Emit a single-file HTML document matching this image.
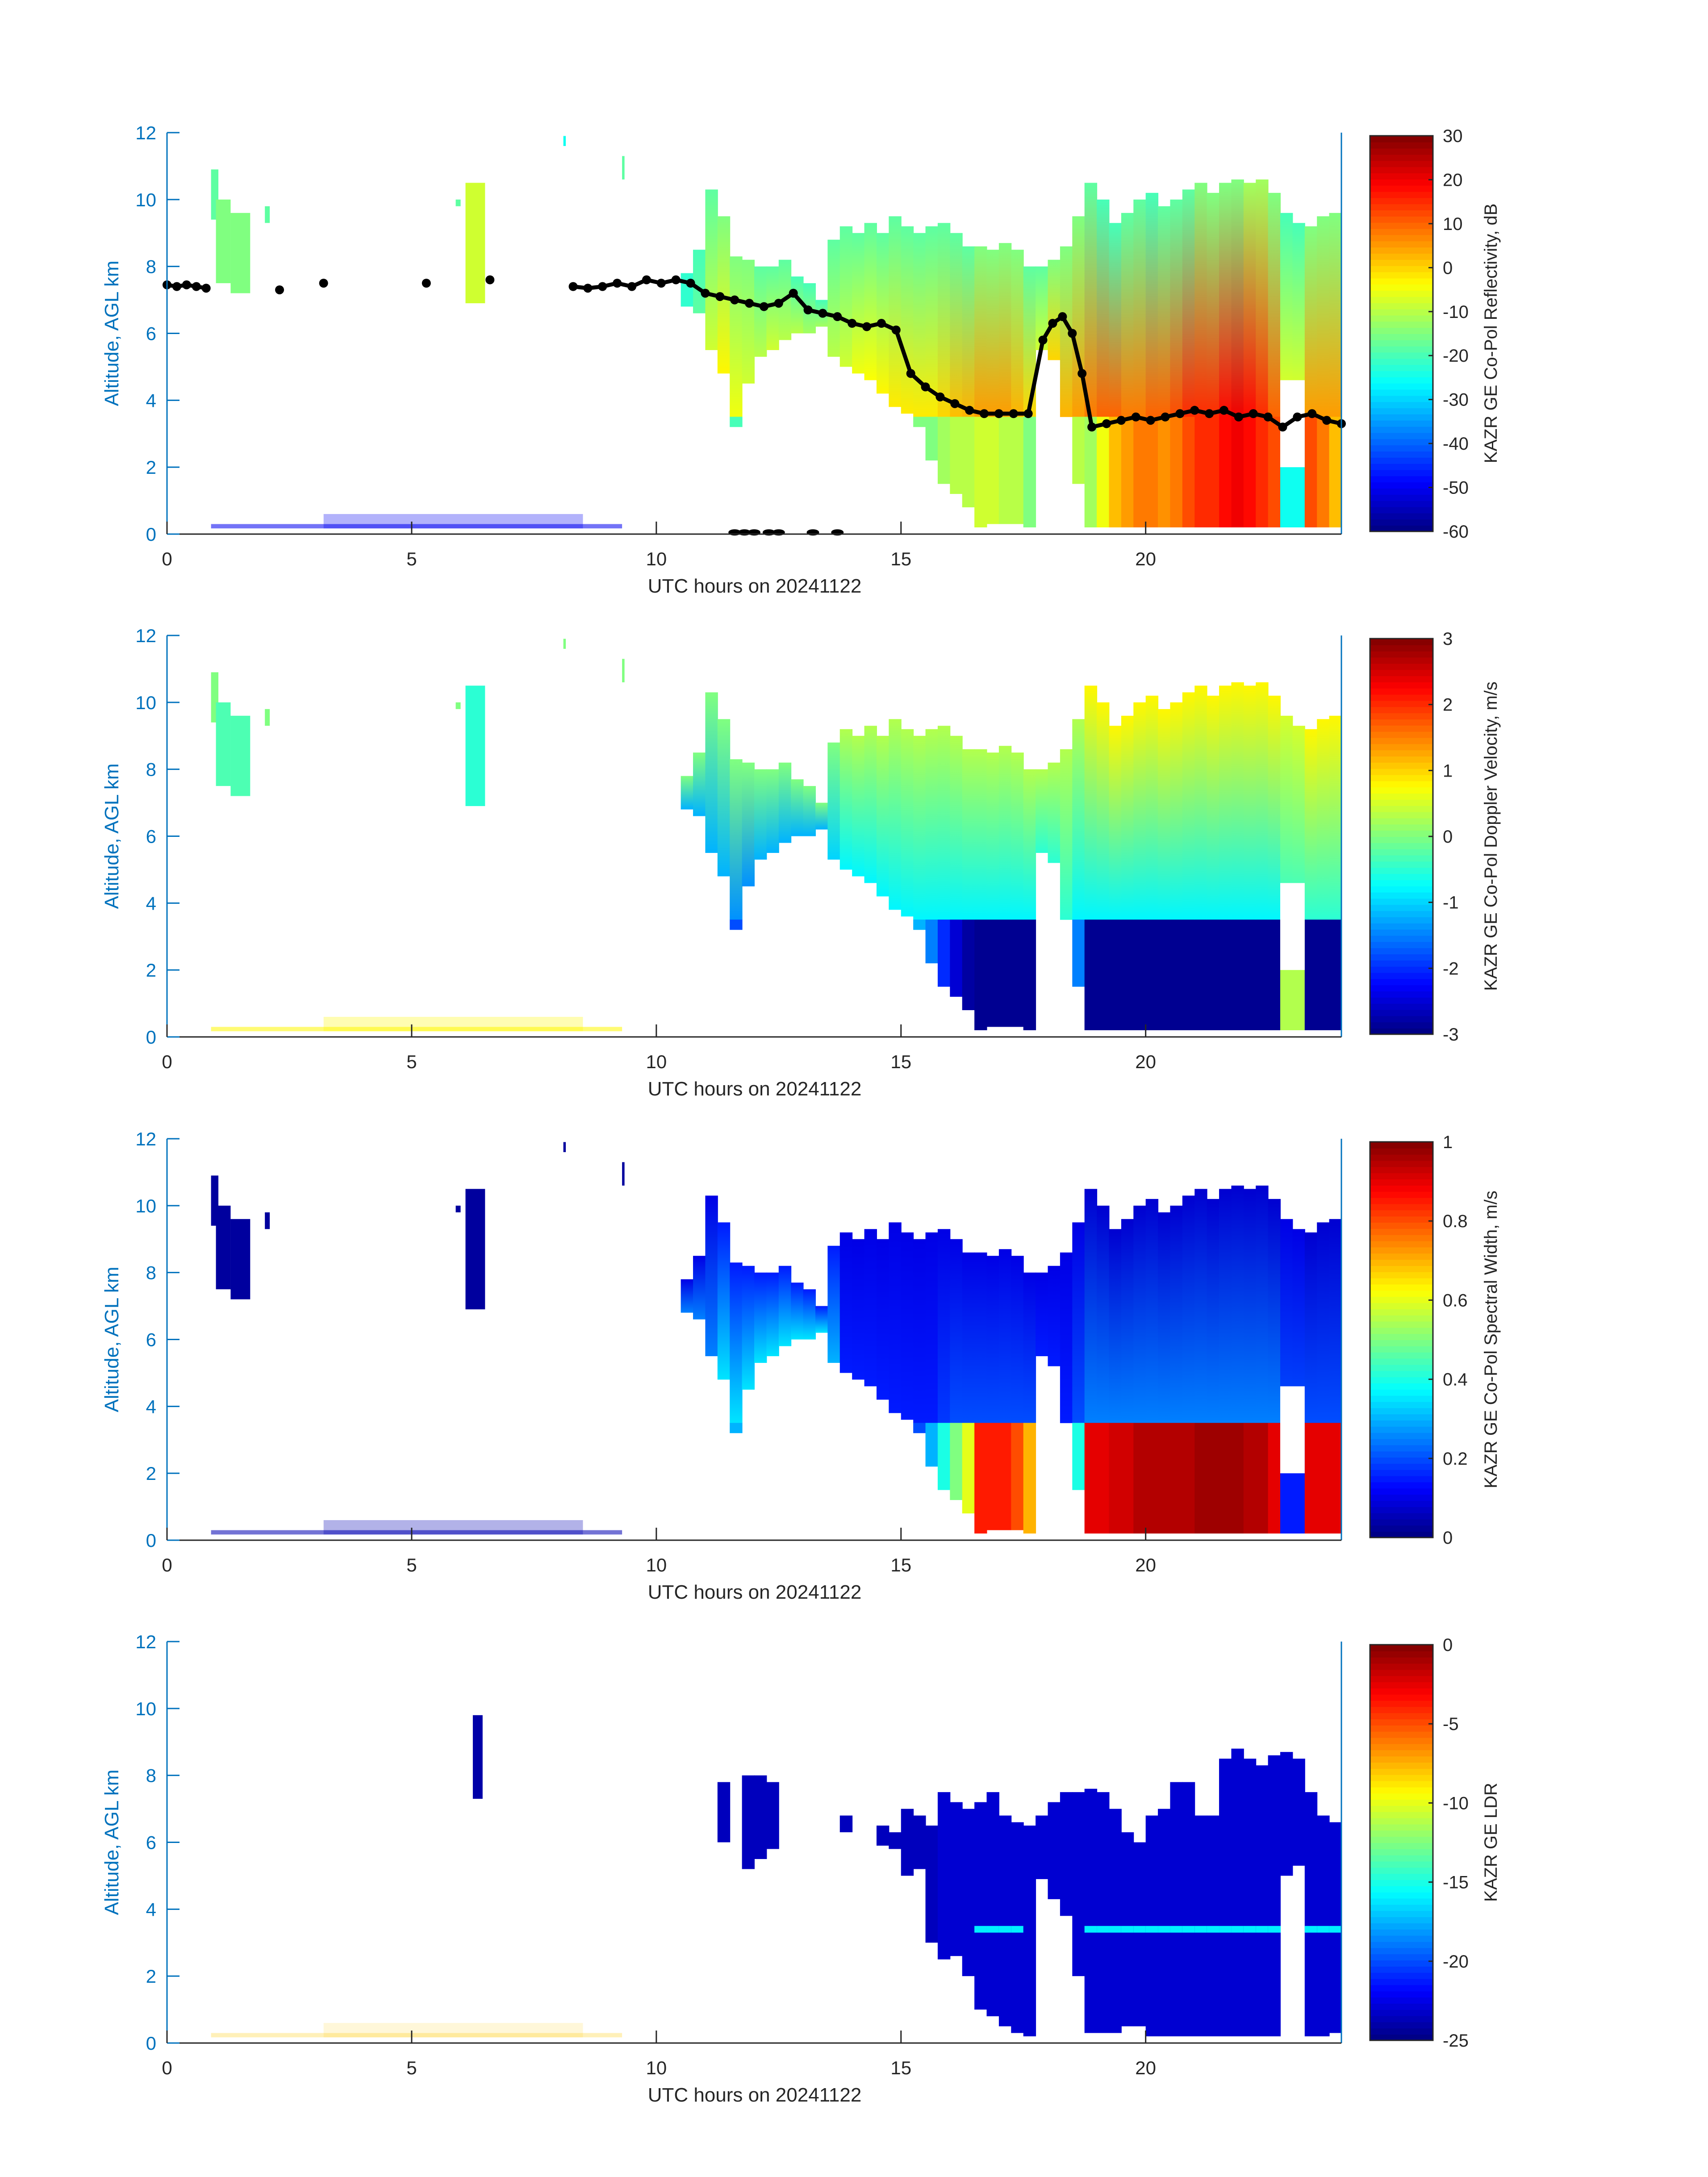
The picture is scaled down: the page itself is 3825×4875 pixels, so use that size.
<!DOCTYPE html>
<html><head><meta charset="utf-8">
<style>
html,body{margin:0;padding:0;background:#fff;}
svg{display:block;font-family:"Liberation Sans",sans-serif;}
</style></head>
<body>
<svg id="chart" xmlns="http://www.w3.org/2000/svg" width="3825" height="4875" viewBox="0 0 3825 4875">
<rect x="0" y="0" width="3825" height="4875" fill="#ffffff"/>
<defs id="defs"></defs>
<g id="root"></g>
</svg>
<script>
// ---- data ----
const hours = [10.5,10.75,11,11.25,11.5,11.75,12,12.25,12.5,12.75,13,13.25,13.5,13.75,14,14.25,14.5,14.75,15,15.25,15.5,15.75,16,16.25,16.5,16.75,17,17.25,17.5,17.75,18,18.25,18.5,18.75,19,19.25,19.5,19.75,20,20.25,20.5,20.75,21,21.25,21.5,21.75,22,22.25,22.5,22.75,23,23.25,23.5,23.75];
const cloudTopKm = [7.8,8.5,10.3,9.5,8.3,8.2,8.0,8.0,8.2,7.7,7.5,7.0,8.8,9.2,9.0,9.3,9.0,9.5,9.2,9.0,9.2,9.3,9.0,8.6,8.6,8.5,8.7,8.5,8.0,8.0,8.2,8.6,9.5,10.5,10.0,9.3,9.6,10.0,10.2,9.8,10.0,10.3,10.5,10.2,10.5,10.6,10.5,10.6,10.2,9.6,9.3,9.2,9.5,9.6];
const cloudBaseKm = [6.8,6.6,5.5,4.8,3.2,4.5,5.3,5.5,5.8,6.0,6.0,6.2,5.3,5.0,4.8,4.6,4.2,3.8,3.6,3.2,2.2,1.5,1.2,0.8,0.2,0.3,0.3,0.3,0.2,5.5,5.2,3.5,1.5,0.2,0.2,0.2,0.2,0.2,0.2,0.2,0.2,0.2,0.2,0.2,0.2,0.2,0.2,0.2,0.2,0.2,0.2,0.2,0.2,0.2];
const ldrTopKm = [0,0,0,7.8,0,8.0,8.0,7.8,0,0,0,0,0,6.8,0,0,6.5,6.3,7.0,6.8,6.5,7.5,7.2,7.0,7.2,7.5,6.8,6.6,6.5,6.8,7.2,7.5,7.5,7.6,7.5,7.0,6.3,6.0,6.8,7.0,7.8,7.8,6.8,6.8,8.5,8.8,8.5,8.3,8.6,8.7,8.5,7.5,6.8,6.6];
const ldrBaseKm = [0,0,0,6.0,0,5.2,5.5,5.8,0,0,0,0,0,6.3,0,0,5.9,5.8,5.0,5.2,3.0,2.5,2.6,2.0,1.0,0.8,0.5,0.3,0.2,4.9,4.3,3.8,2.0,0.3,0.3,0.3,0.5,0.5,0.2,0.2,0.2,0.2,0.2,0.2,0.2,0.2,0.2,0.2,0.2,5.0,5.3,0.2,0.2,0.3];
const ldrBand = [0,0,0,0,0,0,0,0,0,0,0,0,0,0,0,0,0,0,0,0,0,0,0,0,1,1,1,1,0,0,0,0,0,1,1,1,1,1,1,1,1,1,1,1,1,1,1,1,1,0,0,1,1,1];
const holeStart = [22.75];
const holeEnd = [23.25];
const holeTopKm = [4.6];
const holeBaseKm = [2.0];
// Reflectivity dB
const zTop = [-22,-20,-18,-15,-15,-15,-18,-18,-18,-20,-20,-20,-18,-18,-18,-18,-18,-18,-18,-18,-18,-18,-18,-18,-15,-15,-15,-15,-18,-18,-15,-15,-15,-18,-20,-20,-18,-18,-20,-18,-18,-18,-15,-15,-15,-15,-12,-12,-15,-20,-20,-15,-15,-15];
const zMid = [-22,-18,-8,-3,-5,-8,-10,-8,-10,-10,-12,-12,-10,-8,-5,-4,-3,-2,-2,-2,-2,0,2,3,5,5,5,3,0,-8,0,3,5,8,10,10,8,8,10,10,12,15,15,15,18,20,18,15,10,-5,-5,5,5,5];
const zLow = [-25,-22,-20,-15,-20,-18,-15,-15,-15,-15,-15,-12,-12,-10,-10,-10,-8,-10,-12,-15,-15,-12,-10,-10,-8,-8,-10,-10,-15,-18,-15,-15,-10,-12,-5,2,5,8,8,6,8,12,15,15,18,20,18,15,12,-25,-25,12,8,2];
// Doppler velocity m/s
const vTop = [0,0,0,0,0,0,0,0,0,0,0,0,0,0.3,0.3,0.3,0.3,0.3,0.3,0.3,0.3,0.3,0.3,0.3,0.3,0.3,0.3,0.3,0.3,0.3,0.3,0.3,0.3,0.8,0.8,0.8,0.8,0.8,0.8,0.8,0.8,0.8,0.8,0.8,0.8,0.8,0.8,0.8,0.8,0.5,0.5,0.8,0.8,0.8];
const vMid = [-1.2,-1.2,-1.2,-1.2,-1.4,-1.4,-1.2,-1.2,-1.2,-1.2,-1.2,-1.2,-1.0,-0.8,-0.8,-0.8,-0.8,-0.8,-0.8,-0.8,-0.8,-0.8,-0.8,-0.8,-0.8,-0.8,-0.8,-0.8,-0.8,-0.5,-0.5,-0.5,-0.8,-0.8,-0.8,-0.8,-0.8,-0.8,-0.8,-0.8,-0.8,-0.8,-0.8,-0.8,-0.8,-0.8,-0.8,-0.8,-0.8,-0.5,-0.5,-0.5,-0.5,-0.5];
const vLow = [-1.5,-1.5,-1.5,-1.5,-1.8,-1.5,-1.5,-1.5,-1.5,-1.5,-1.5,-1.5,-1.2,-1.2,-1.2,-1.2,-1.2,-1.2,-1.2,-1.2,-1.5,-2.0,-2.5,-2.8,-2.9,-2.9,-2.9,-2.9,-2.9,-1,-1,-1,-1.5,-2.9,-2.9,-2.9,-2.9,-2.9,-2.9,-2.9,-2.9,-2.9,-2.9,-2.9,-2.9,-2.9,-2.9,-2.9,-2.9,0.3,0.3,-2.9,-2.9,-2.9];
// Spectral width m/s
const wTop = [0.1,0.1,0.1,0.15,0.15,0.15,0.15,0.15,0.15,0.15,0.15,0.15,0.15,0.1,0.1,0.1,0.1,0.1,0.1,0.1,0.1,0.1,0.1,0.1,0.1,0.1,0.1,0.1,0.1,0.1,0.1,0.1,0.1,0.08,0.08,0.08,0.08,0.08,0.08,0.08,0.08,0.08,0.08,0.08,0.08,0.08,0.08,0.08,0.08,0.1,0.1,0.08,0.08,0.08];
const wMid = [0.25,0.25,0.25,0.35,0.35,0.35,0.35,0.35,0.35,0.35,0.35,0.35,0.3,0.15,0.15,0.15,0.15,0.15,0.15,0.15,0.15,0.18,0.2,0.2,0.2,0.2,0.2,0.2,0.2,0.15,0.15,0.15,0.2,0.25,0.25,0.25,0.25,0.25,0.25,0.25,0.25,0.25,0.25,0.25,0.25,0.25,0.25,0.25,0.25,0.2,0.2,0.2,0.2,0.2];
const wLow = [0.3,0.3,0.3,0.3,0.3,0.3,0.3,0.3,0.3,0.3,0.3,0.3,0.3,0.2,0.2,0.2,0.2,0.2,0.2,0.2,0.3,0.4,0.5,0.6,0.85,0.85,0.85,0.8,0.7,0.2,0.2,0.2,0.4,0.9,0.9,0.92,0.92,0.95,0.95,0.95,0.95,0.95,0.97,0.97,0.97,0.97,0.95,0.95,0.9,0.15,0.15,0.9,0.9,0.9];
// LDR dB
const ldrVal = [-24,-24,-24,-23.5,-24,-23.5,-23.5,-23.5,-24,-24,-24,-24,-24,-23.5,-24,-24,-23.5,-23.5,-23.5,-23.5,-23.5,-23,-23,-23,-23,-23,-23,-23,-23,-23,-23,-23,-23,-23,-23,-23,-23,-23,-23,-23,-23,-23,-23,-23,-23,-23,-23,-23,-23,-23,-23,-23,-23,-23];
const ldrBandVal = -16;
// early isolated clouds
const blobStart = [0.9,1.0,1.3,2.0,5.9,6.1,9.3,8.1];
const blobEnd = [1.05,1.3,1.7,2.1,6.0,6.5,9.35,8.15];
const blobTopKm = [10.9,10.0,9.6,9.8,10.0,10.5,11.3,11.9];
const blobBaseKm = [9.4,7.5,7.2,9.3,9.8,6.9,10.6,11.6];
const zBlob = [-18,-15,-15,-18,-18,-8,-18,-25];
const vBlob = [0,-0.3,-0.3,0,0,-0.5,0,0];
const wBlob = [0.03,0.03,0.03,0.03,0.03,0.03,0.03,0.03];
const ldrBlobStart = [6.25];
const ldrBlobEnd = [6.45];
const ldrBlobTopKm = [9.8];
const ldrBlobBaseKm = [7.3];
// surface clutter
const clutterStart = [0.9,3.2];
const clutterEnd = [9.3,8.5];
const clutterTopKm = [0.3,0.6];
const clutterBaseKm = [0.17,0.17];
const clutterOpacity = [0.55,0.3];
// ceilometer cloud base (black dots)
const cbHours = [0,0.2,0.4,0.6,0.8,2.3,3.2,5.3,6.6,8.3,8.6,8.9,9.2,9.5,9.8,10.1,10.4,10.7,11.0,11.3,11.6,11.9,12.2,12.5,12.8,13.1,13.4,13.7,14.0,14.3,14.6,14.9,15.2,15.5,15.8,16.1,16.4,16.7,17.0,17.3,17.6,17.9,18.1,18.3,18.5,18.7,18.9,19.2,19.5,19.8,20.1,20.4,20.7,21.0,21.3,21.6,21.9,22.2,22.5,22.8,23.1,23.4,23.7,24.0];
const cbKm = [7.45,7.4,7.45,7.4,7.35,7.3,7.5,7.5,7.6,7.4,7.35,7.4,7.5,7.4,7.6,7.5,7.6,7.5,7.2,7.1,7.0,6.9,6.8,6.9,7.2,6.7,6.6,6.5,6.3,6.2,6.3,6.1,4.8,4.4,4.1,3.9,3.7,3.6,3.6,3.6,3.6,5.8,6.3,6.5,6.0,4.8,3.2,3.3,3.4,3.5,3.4,3.5,3.6,3.7,3.6,3.7,3.5,3.6,3.5,3.2,3.5,3.6,3.4,3.3];
const surfDotHours = [11.6,11.8,12.0,12.3,12.5,13.2,13.7];
const xTicks = [0,5,10,15,20];
const xTickLabels = ["0","5","10","15","20"];
const yTicks = [0,2,4,6,8,10,12];
const yTickLabels = ["0","2","4","6","8","10","12"];
const zTicks = [30,20,10,0,-10,-20,-30,-40,-50,-60];
const vTicks = [3,2,1,0,-1,-2,-3];
const wTicks = [1,0.8,0.6,0.4,0.2,0];
const ldrTicks = [0,-5,-10,-15,-20,-25];

// ---- layout ----
const NS = "http://www.w3.org/2000/svg";
const X0 = 374, X1 = 3004, H = 899;
const panelTops = [297,1423,2550,3676];
const MELT = 3.5, DH = 0.25;
const BLUE = "#0072BD";
const root = document.getElementById("root");
const defs = document.getElementById("defs");
let gid = 0;
function el(tag, attrs, parent){const e=document.createElementNS(NS,tag);for(const k in attrs)e.setAttribute(k,attrs[k]);(parent||root).appendChild(e);return e;}
function clamp(v){return Math.max(0,Math.min(1,v));}
function jet(t){t=clamp(t);const r=clamp(1.5-Math.abs(4*t-3)),g=clamp(1.5-Math.abs(4*t-2)),b=clamp(1.5-Math.abs(4*t-1));return "rgb("+Math.round(r*255)+","+Math.round(g*255)+","+Math.round(b*255)+")";}
function xs(h){return X0+(h/24)*(X1-X0);}

function panel(pi, cfg){
  const top = panelTops[pi], bot = top+H;
  const ys = km => bot - km/12*H;
  const col = v => jet((v-cfg.vmin)/(cfg.vmax-cfg.vmin));
  const g = el("g",{});
  
  
  const plot = el("g",{},g);
  
  
  // clutter
  for(let i=0;i<clutterStart.length;i++){
    const r = el("rect",{x:xs(clutterStart[i]),y:ys(clutterTopKm[i]),width:xs(clutterEnd[i])-xs(clutterStart[i]),height:ys(clutterBaseKm[i])-ys(clutterTopKm[i]),fill:col(cfg.clutterVal),opacity:clutterOpacity[i]*cfg.clutterScale},plot);
    
    
  }
  // blobs
  for(let i=0;i<cfg.bStart.length;i++){
    const r = el("rect",{x:xs(cfg.bStart[i]),y:ys(cfg.bTop[i]),width:xs(cfg.bEnd[i])-xs(cfg.bStart[i]),height:ys(cfg.bBase[i])-ys(cfg.bTop[i]),fill:col(cfg.bVal[i])},plot);
    
    
  }
  // columns
  for(let i=0;i<hours.length;i++){
    const t=cfg.topKm[i], b=cfg.baseKm[i];
    if(!(t>0)) continue;
    const xa=xs(hours[i]), xb=xs(hours[i]+DH)+1;
    if(cfg.single){
      const r=el("rect",{x:xa,y:ys(t),width:xb-xa,height:ys(b)-ys(t),fill:col(cfg.val[i])},plot);
      
      
      if(cfg.band && cfg.band[i] && t>3.5 && b<3.3){
        const br=el("rect",{x:xa,y:ys(3.5),width:xb-xa,height:ys(3.3)-ys(3.5),fill:col(ldrBandVal)},plot);
        
        
      }
      continue;
    }
    const splitKm = b<MELT ? MELT : b;
    const id="gr"+(gid++);
    const lg=el("linearGradient",{id:id,x1:0,y1:0,x2:0,y2:1},defs);
    el("stop",{offset:"0",["stop-color"]:col(cfg.top[i])},lg);
    el("stop",{offset:"1",["stop-color"]:col(cfg.mid[i])},lg);
    const r=el("rect",{x:xa,y:ys(t),width:xb-xa,height:ys(splitKm)-ys(t),fill:"url(#"+id+")"},plot);
    
    
    if(b<MELT){
      const r2=el("rect",{x:xa,y:ys(MELT)-0.5,width:xb-xa,height:ys(b)-ys(MELT)+0.5,fill:col(cfg.low[i])},plot);
      
      
    }
  }
  // holes
  if(!cfg.single){
    for(let i=0;i<holeStart.length;i++){
      const hr=el("rect",{x:xs(holeStart[i]),y:ys(holeTopKm[i]),width:xs(holeEnd[i])-xs(holeStart[i]),height:ys(holeBaseKm[i])-ys(holeTopKm[i]),fill:"#fff"},plot);
      
      
    }
  }
  // ceilometer dots
  if(cfg.dots){
    const dg=el("g",{},g);
    
    
    for(let i=1;i<cbHours.length;i++){
      if(cbHours[i]-cbHours[i-1]<=0.4){
        el("line",{x1:xs(cbHours[i-1]),y1:ys(cbKm[i-1]),x2:xs(cbHours[i]),y2:ys(cbKm[i]),stroke:"#000","stroke-width":9,"stroke-linecap":"round"},dg);
      }
    }
    for(let i=0;i<cbHours.length;i++){
      const c=el("circle",{cx:xs(cbHours[i]),cy:ys(cbKm[i]),r:10,fill:"#000"},dg);
      
      
    }
    for(let i=0;i<surfDotHours.length;i++){
      const c=el("ellipse",{cx:xs(surfDotHours[i]),cy:ys(0.05),rx:14,ry:7,fill:"#000"},dg);
      
      
    }
  }
  // axes
  const ax=el("g",{},g);
  
  
  el("line",{x1:X0,y1:top,x2:X0,y2:bot,stroke:BLUE,"stroke-width":3},ax);
  el("line",{x1:X1,y1:top,x2:X1,y2:bot,stroke:BLUE,"stroke-width":3},ax);
  el("line",{x1:X0,y1:bot,x2:X1,y2:bot,stroke:"#262626","stroke-width":3},ax);
  for(let i=0;i<yTicks.length;i++){
    const y=ys(yTicks[i]);
    el("line",{x1:X0,y1:y,x2:X0+28,y2:y,stroke:BLUE,"stroke-width":3},ax);
    const tx=el("text",{x:350,y:y+15,"text-anchor":"end","font-size":42,fill:BLUE},ax);
    tx.textContent=yTickLabels[i];
    
    
  }
  for(let i=0;i<xTicks.length;i++){
    const x=xs(xTicks[i]);
    el("line",{x1:x,y1:bot,x2:x,y2:bot-28,stroke:"#262626","stroke-width":3},ax);
    const tx=el("text",{x:x,y:bot+70,"text-anchor":"middle","font-size":42,fill:"#262626"},ax);
    tx.textContent=xTickLabels[i];
    
    
  }
  const xl=el("text",{x:1690,y:bot+131,"text-anchor":"middle","font-size":44,fill:"#262626"},ax);
  xl.textContent="UTC hours on 20241122";
  
  
  const yl=el("text",{x:0,y:0,"text-anchor":"middle","font-size":44,fill:BLUE,transform:"translate(265,"+(top+H/2)+") rotate(-90)"},ax);
  yl.textContent="Altitude, AGL km";
  
  
  // colorbar
  const cb=el("g",{},g);
  
  
  const cx0=3068,cx1=3209,cy0=top+7,cy1=bot-6,N=64;
  for(let k=0;k<N;k++){
    const yy=cy1-(k+1)*(cy1-cy0)/N;
    el("rect",{x:cx0,y:yy,width:cx1-cx0,height:(cy1-cy0)/N+1,fill:jet((k+0.5)/N)},cb);
  }
  el("rect",{x:cx0,y:cy0,width:cx1-cx0,height:cy1-cy0,fill:"none",stroke:"#262626","stroke-width":3},cb);
  for(let i=0;i<cfg.ticks.length;i++){
    const v=cfg.ticks[i];
    const y=cy1-(v-cfg.vmin)/(cfg.vmax-cfg.vmin)*(cy1-cy0);
    el("line",{x1:cx1-10,y1:y,x2:cx1,y2:y,stroke:"#262626","stroke-width":3},cb);
    const tx=el("text",{x:3231,y:y+14,"font-size":40,fill:"#262626"},cb);
    tx.textContent=String(v);
    
    
  }
  const ct=el("text",{x:0,y:0,"text-anchor":"middle","font-size":40,fill:"#262626",transform:"translate(3352,"+(top+H/2)+") rotate(-90)"},cb);
  ct.textContent=cfg.title;
  
  
}

panel(0,{name:"reflectivity-panel",vmin:-60,vmax:30,topKm:cloudTopKm,baseKm:cloudBaseKm,top:zTop,mid:zMid,low:zLow,bStart:blobStart,bEnd:blobEnd,bTop:blobTopKm,bBase:blobBaseKm,bVal:zBlob,clutterVal:-50,clutterScale:1,ticks:zTicks,title:"KAZR GE Co-Pol Reflectivity, dB",dots:true});
panel(1,{name:"velocity-panel",vmin:-3,vmax:3,topKm:cloudTopKm,baseKm:cloudBaseKm,top:vTop,mid:vMid,low:vLow,bStart:blobStart,bEnd:blobEnd,bTop:blobTopKm,bBase:blobBaseKm,bVal:vBlob,clutterVal:0.8,clutterScale:1,ticks:vTicks,title:"KAZR GE Co-Pol Doppler Velocity, m/s"});
panel(2,{name:"spectral-width-panel",vmin:0,vmax:1,topKm:cloudTopKm,baseKm:cloudBaseKm,top:wTop,mid:wMid,low:wLow,bStart:blobStart,bEnd:blobEnd,bTop:blobTopKm,bBase:blobBaseKm,bVal:wBlob,clutterVal:0.05,clutterScale:1,ticks:wTicks,title:"KAZR GE Co-Pol Spectral Width, m/s"});
panel(3,{name:"ldr-panel",vmin:-25,vmax:0,single:true,topKm:ldrTopKm,baseKm:ldrBaseKm,val:ldrVal,band:ldrBand,bStart:ldrBlobStart,bEnd:ldrBlobEnd,bTop:ldrBlobTopKm,bBase:ldrBlobBaseKm,bVal:[-24],clutterVal:-8,clutterScale:0.5,ticks:ldrTicks,title:"KAZR GE LDR"});
</script>
</body></html>
